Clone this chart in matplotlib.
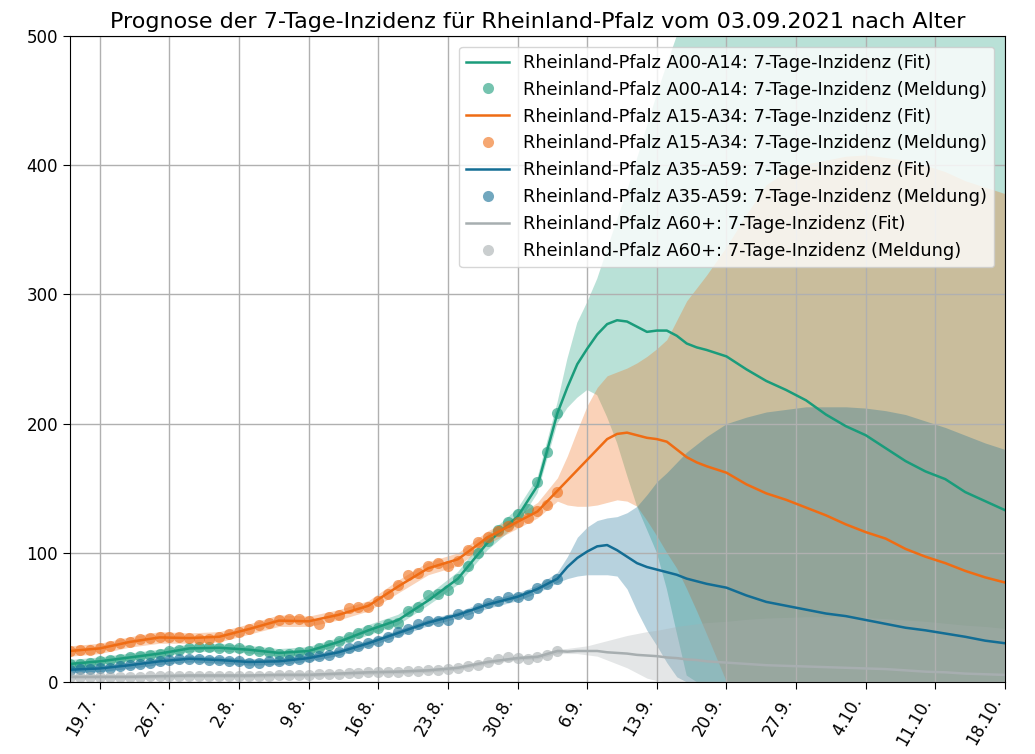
import matplotlib
matplotlib.use("Agg")
import matplotlib.pyplot as plt
import numpy as np
import pandas as pd

plt.rcParams['font.family'] = ['DejaVu Sans']

START = pd.Timestamp("2021-07-16")
END = pd.Timestamp("2021-10-18")

TITLE = "Prognose der 7-Tage-Inzidenz für Rheinland-Pfalz vom 03.09.2021 nach Alter"
GROUPS = ["A00-A14", "A15-A34", "A35-A59", "A60+"]
COLORS = ["#1a9c7b", "#ef6c14", "#136d94", "#a7aeb0"]

XTICK_DATES = ["2021-07-19", "2021-07-26", "2021-08-02", "2021-08-09", "2021-08-16",
               "2021-08-23", "2021-08-30", "2021-09-06", "2021-09-13", "2021-09-20",
               "2021-09-27", "2021-10-04", "2021-10-11", "2021-10-18"]
XTICK_LABELS = ["19.7.", "26.7.", "2.8.", "9.8.", "16.8.", "23.8.", "30.8.", "6.9.",
                "13.9.", "20.9.", "27.9.", "4.10.", "11.10.", "18.10."]
YTICKS = [0, 100, 200, 300, 400, 500]

# days since 16.7.2021
OBS_DAYS = list(range(50))
FIT_DAYS = [0, 3, 6, 9, 12, 15, 18, 21, 24, 27, 30, 33, 36, 39, 42, 45, 47,
            49, 50, 51, 52, 53, 54, 55, 56, 57, 58, 59, 60, 61, 62, 63, 64,
            66, 68, 70, 72, 74, 76, 78, 80, 82, 84, 86, 88, 90, 92, 94]

# ---- A00-A14 ----
A00_OBS = [14, 14, 15, 16, 17, 18, 19, 20, 21, 22,
           24, 25, 26, 27, 27, 26, 26, 26, 25, 24,
           23, 22, 22, 23, 24, 26, 29, 32, 35, 38,
           40, 42, 45, 46, 55, 58, 67, 68, 71, 80,
           90, 100, 109, 118, 124, 130, 134, 155, 178, 208]
A00_FIT = [14, 16, 19, 22, 26, 26.5, 25, 22.5, 24, 31, 40, 48, 63, 80, 108, 128, 152,
           208, 228, 246, 258, 269, 277, 280, 279, 275, 271, 272, 272, 268, 262, 259, 257,
           252, 242, 233, 226, 218, 207, 198, 191, 181, 171, 163, 157, 147, 140, 133]
A00_LO = [11, 13, 16, 19, 23, 23.5, 22, 19.5, 21, 28, 36, 44, 59, 75, 102, 122, 146,
          200, 212, 220, 226, 222, 205, 185, 160, 136, 118, 100, 72, 38, 5, 0, 0,
          0, 0, 0, 0, 0, 0, 0, 0, 0, 0, 0, 0, 0, 0, 0]
A00_HI = [17, 19, 22, 25, 29, 29.5, 28, 25.5, 27, 34, 44, 52, 67, 85, 114, 134, 158,
          216, 250, 278, 294, 312, 335, 358, 380, 405, 430, 455, 478, 500, 525, 550, 575,
          620, 660, 700, 720, 740, 750, 760, 760, 760, 760, 750, 740, 730, 720, 700]

# ---- A15-A34 ----
A15_OBS = [24, 25, 25, 26, 28, 30, 31, 33, 34, 35,
           35, 35, 34, 33, 33, 35, 37, 39, 41, 44,
           46, 48, 49, 49, 47, 45, 50, 52, 57, 58,
           58, 63, 68, 75, 83, 84, 90, 92, 90, 94,
           102, 108, 112, 117, 121, 124, 127, 132, 137, 147]
A15_FIT = [24, 26, 31, 34.5, 34, 35, 41, 47.5, 47, 52, 59, 74, 88, 95, 112, 124, 132,
           148, 156, 164, 172, 180, 188, 192, 193, 191, 189, 188, 186, 180, 174, 170, 167,
           162, 153, 146, 141, 135, 129, 122, 116, 111, 103, 97, 92, 86, 81, 77]
A15_LO = [20, 22, 27, 30, 30, 31, 37, 43, 43, 48, 55, 69, 83, 90, 107, 119, 127,
          140, 137, 136, 136, 137, 139, 141, 140, 136, 125, 113, 100, 88, 72, 55, 37,
          0, 0, 0, 0, 0, 0, 0, 0, 0, 0, 0, 0, 0, 0, 0]
A15_HI = [28, 30, 35, 39, 38, 39, 45, 52, 51, 56, 63, 79, 93, 100, 117, 129, 139,
          158, 175, 195, 214, 228, 237, 240, 243, 247, 252, 258, 265, 280, 295, 305, 315,
          337, 362, 385, 395, 401, 404, 407, 408, 406, 404, 400, 395, 388, 383, 378]

# ---- A35-A59 ----
A35_OBS = [9, 10, 10, 11, 11, 12, 13, 14, 15, 16,
           17, 18, 18, 18, 17, 17, 16, 16, 15, 15,
           16, 16, 17, 18, 19, 20, 21, 23, 26, 28,
           30, 32, 35, 39, 41, 45, 47, 47, 48, 53,
           53, 57, 61, 63, 66, 66, 67, 73, 76, 80]
A35_FIT = [9.5, 10.5, 13, 16, 18, 17, 15.5, 16, 18.5, 23, 30, 38, 46, 52, 60, 66, 72,
           80, 89, 96, 101, 105, 106, 102, 97, 92, 89, 87, 85, 83, 80, 78, 76,
           73, 67, 62, 59, 56, 53, 51, 48, 45, 42, 40, 37.5, 35, 32, 30]
A35_LO = [7, 8, 10.5, 13.5, 15.5, 14.5, 13, 13.5, 16, 20.5, 27.5, 35.5, 43.5, 49.5, 57, 63, 69,
          77, 80, 82, 83, 83, 83, 82, 72, 55, 40, 28, 15, 4, 0, 0, 0,
          0, 0, 0, 0, 0, 0, 0, 0, 0, 0, 0, 0, 0, 0, 0]
A35_HI = [12, 13, 15.5, 18.5, 20.5, 19.5, 18, 18.5, 21, 25.5, 32.5, 40.5, 48.5, 54.5, 63, 69, 75,
          85, 97, 112, 120, 125, 127, 128, 131, 136, 145, 155, 162, 170, 178, 184, 190,
          200, 205, 209, 211, 213, 213, 213, 212, 210, 207, 202, 197, 191, 185, 180]

# ---- A60+ ----
A60_OBS = [4, 4, 4, 4, 4, 4, 4, 4, 4.5, 4.5,
           5, 5, 5, 5, 5, 5, 5, 5, 5, 5,
           5, 5.5, 5.5, 5.5, 5.5, 6, 6, 6.5, 7, 7,
           7.5, 8, 8, 8, 8.5, 8.5, 9, 9, 10, 11,
           12, 13.5, 15.5, 17.5, 19, 18.5, 18, 19.5, 21, 24]
A60_FIT = [4, 4, 4, 4.5, 5, 5, 5, 5.5, 5.5, 6.5, 7.5, 8, 9, 11, 15.5, 18.5, 19.5,
           24, 23.5, 24, 24, 24, 23, 22.5, 22, 21, 20.5, 20, 19, 18.5, 17.5, 17, 16,
           15, 14, 13, 12.5, 12, 11.5, 11, 10.5, 10, 9, 8, 7.5, 6.5, 6, 5.5]
A60_LO = [2.5, 2.5, 2.5, 3, 3.5, 3.5, 3.5, 4, 4, 5, 6, 6.5, 7.5, 9.5, 14, 17, 18,
          22, 22, 22, 21, 20, 17, 14, 11, 7, 3, 1, 0, 0, 0, 0, 0,
          0, 0, 0, 0, 0, 0, 0, 0, 0, 0, 0, 0, 0, 0, 0]
A60_HI = [5.5, 5.5, 5.5, 6, 6.5, 6.5, 6.5, 7, 7, 8, 9, 9.5, 10.5, 12.5, 17, 20, 21,
          25.5, 26, 27, 28, 30, 32, 34, 36, 37.5, 39, 40, 41.5, 43, 44, 45, 46,
          47, 48.5, 49.5, 50, 50.5, 50.5, 50.5, 50, 49, 48, 47, 45.5, 44, 43, 41.5]

SERIES = [
    (A00_OBS, A00_FIT, A00_LO, A00_HI),
    (A15_OBS, A15_FIT, A15_LO, A15_HI),
    (A35_OBS, A35_FIT, A35_LO, A35_HI),
    (A60_OBS, A60_FIT, A60_LO, A60_HI),
]

obs_dates = START + pd.to_timedelta(OBS_DAYS, unit="D")
fit_dates = START + pd.to_timedelta(FIT_DAYS, unit="D")

fig = plt.figure(figsize=(10.35, 7.54), dpi=100)
ax = fig.add_axes([70 / 1035, 1 - 682 / 754, (1005 - 70) / 1035, (682 - 36) / 754])

for grp, col, (obs, fit, lo, hi) in zip(GROUPS, COLORS, SERIES):
    ax.fill_between(fit_dates, lo, hi, color=col, alpha=0.3, linewidth=0)
    ax.plot(fit_dates, fit, color=col, lw=1.8,
            label=f"Rheinland-Pfalz {grp}: 7-Tage-Inzidenz (Fit)")
    ax.plot(obs_dates, obs, linestyle="none", marker="o", ms=8, color=col,
            alpha=0.6, markeredgewidth=0,
            label=f"Rheinland-Pfalz {grp}: 7-Tage-Inzidenz (Meldung)")

ax.set_xlim(START, END)
ax.set_ylim(0, 500)
ax.set_yticks(YTICKS)
ax.set_xticks(pd.to_datetime(XTICK_DATES))
ax.set_xticklabels(XTICK_LABELS, rotation=60, ha="right", rotation_mode="default")
ax.tick_params(labelsize=12, length=5)
ax.grid(True, color="#b0b0b0", lw=1)
ax.set_title(TITLE, fontsize=16, pad=6)
ax.legend(loc="upper right", fontsize=12.8, handlelength=2.4, borderaxespad=0.6)

fig.savefig("out.png", dpi=100)
